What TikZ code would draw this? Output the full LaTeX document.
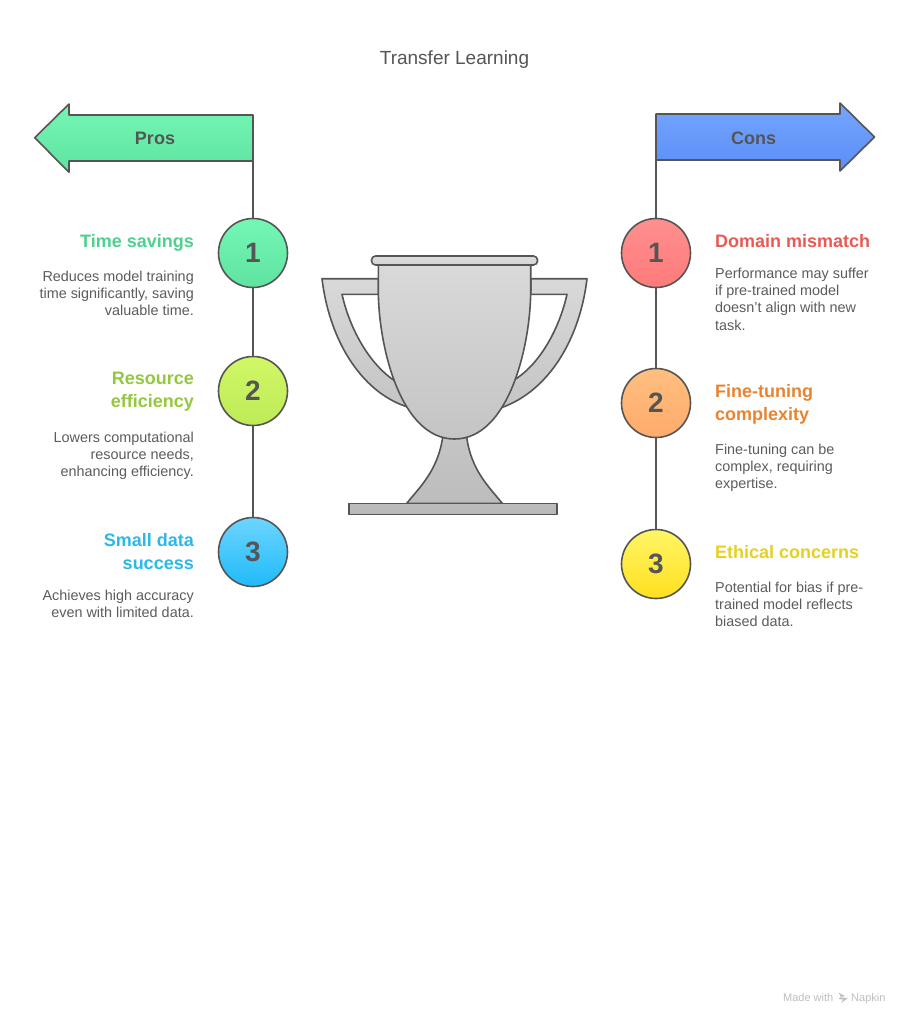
\documentclass[tikz,border=0pt]{standalone}
\usepackage{fontspec}
\setmainfont{Liberation Sans}
\definecolor{ink}{HTML}{555555}
\definecolor{bodyc}{HTML}{5C5C5C}
\definecolor{g1}{HTML}{75F7B4}\definecolor{g2}{HTML}{5FE3A1}
\definecolor{l1}{HTML}{D2F766}\definecolor{l2}{HTML}{BDEB57}
\definecolor{b1}{HTML}{6DD5FF}\definecolor{b2}{HTML}{1FBBF9}
\definecolor{r1}{HTML}{FF8F8F}\definecolor{r2}{HTML}{FF7A7A}
\definecolor{o1}{HTML}{FFBF80}\definecolor{o2}{HTML}{FFAB6B}
\definecolor{y1}{HTML}{FFF566}\definecolor{y2}{HTML}{FFE01F}
\definecolor{u1}{HTML}{74A6FF}\definecolor{u2}{HTML}{5C8DF7}
\definecolor{hg}{HTML}{4FD08F}\definecolor{hl}{HTML}{93C83F}
\definecolor{hb}{HTML}{2DB9E8}\definecolor{hr}{HTML}{E95A55}
\definecolor{ho}{HTML}{E8842F}\definecolor{hy}{HTML}{E6D11F}
\pgfdeclarelayer{back}\pgfsetlayers{back,main}
\tikzset{
  x=1pt,y=-1pt,
  outl/.style={draw=ink,line width=1.6pt,line join=round},
  conn/.style={draw=ink,line width=1.6pt},
  numc/.style={circle,outl,minimum size=69pt,inner sep=0pt,font=\fontsize{28}{28}\selectfont\bfseries,text=ink},
  headl/.style={anchor=north east,align=right,inner sep=0pt,font=\fontsize{18}{23}\selectfont\bfseries},
  headr/.style={anchor=north west,align=left,inner sep=0pt,font=\fontsize{18}{23}\selectfont\bfseries},
  bodyl/.style={anchor=north east,align=right,inner sep=0pt,text=bodyc,font=\fontsize{14.4}{17.3}\selectfont},
  bodyr/.style={anchor=north west,align=left,inner sep=0pt,text=bodyc,font=\fontsize{14.4}{17.3}\selectfont},
  lab/.style={inner sep=0pt,text=ink,font=\fontsize{18}{18}\selectfont\bfseries},
  wmark/.style={inner sep=0pt,text=black!25,font=\fontsize{11}{11}\selectfont},
}
\begin{document}
\begin{tikzpicture}
\useasboundingbox (0,0) rectangle (909,1024);
\node[inner sep=0pt,text=ink,font=\fontsize{19}{19}\selectfont] (title) at (454.5,60) {Transfer Learning};

% arrows
\path[outl,top color=g1,bottom color=g2] (34.7,137.7) -- (69,104) -- (69,115) -- (253,115) -- (253,161) -- (69,161) -- (69,172.3) -- cycle;
\path[outl,top color=u1,bottom color=u2] (874.5,137) -- (840,103) -- (840,114) -- (656,114) -- (656,160) -- (840,160) -- (840,171) -- cycle;
\node[lab] (pros) at (155,138.5) {Pros};
\node[lab] (cons) at (753.5,138) {Cons};
\coordinate (prosfoot) at (253,161);
\coordinate (consfoot) at (656,160);

% numbered circles
\node[numc,top color=g1,bottom color=g2] (p1) at (253,253) {1};
\node[numc,top color=l1,bottom color=l2] (p2) at (253,391) {2};
\node[numc,top color=b1,bottom color=b2] (p3) at (253,552) {3};
\node[numc,top color=r1,bottom color=r2] (c1) at (656,253) {1};
\node[numc,top color=o1,bottom color=o2] (c2) at (656,403) {2};
\node[numc,top color=y1,bottom color=y2] (c3) at (656,564) {3};

\begin{pgfonlayer}{back}
\fill[white] (0,0) rectangle (909,1024);
\draw[conn] (prosfoot) -- (p1) (p1) -- (p2) (p2) -- (p3);
\draw[conn] (consfoot) -- (c1) (c1) -- (c2) (c2) -- (c3);
\end{pgfonlayer}

% left texts
\node[headl,text=hg] (ph1) at (194,234) {Time savings};
\node[bodyl] (pb1) at (194,270.5) {Reduces model training\\time significantly, saving\\valuable time.};
\node[headl,text=hl] (ph2) at (194,372) {Resource\\efficiency};
\node[bodyl] (pb2) at (194,431.5) {Lowers computational\\resource needs,\\enhancing efficiency.};
\node[headl,text=hb] (ph3) at (194,533) {Small data\\success};
\node[bodyl] (pb3) at (194,589.5) {Achieves high accuracy\\even with limited data.};

% right texts
\node[headr,text=hr] (ch1) at (715,234) {Domain mismatch};
\node[bodyr] (cb1) at (715,267.5) {Performance may suffer\\if pre-trained model\\doesn't align with new\\task.};
\node[headr,text=ho] (ch2) at (715,384) {Fine-tuning\\complexity};
\node[bodyr] (cb2) at (715,443.5) {Fine-tuning can be\\complex, requiring\\expertise.};
\node[headr,text=hy] (ch3) at (715,545) {Ethical concerns};
\node[bodyr] (cb3) at (715,581.5) {Potential for bias if pre-\\trained model reflects\\biased data.};

% trophy
\path[outl,top color=black!15,bottom color=black!23] (322,278.7) -- (378.3,278.7) -- (378.3,294.3) -- (342,294.3)
  .. controls (350,330) and (370,365) .. (396,381.7) -- (410,407.7)
  .. controls (365,395) and (330,345) .. cycle;
\path[outl,top color=black!15,bottom color=black!23] (587,278.7) -- (530.7,278.7) -- (530.7,294.3) -- (567,294.3)
  .. controls (559,330) and (539,365) .. (514,380) -- (497.3,409)
  .. controls (544,395) and (579,345) .. cycle;
\path[outl,top color=black!23,bottom color=black!26] (442.7,437) .. controls (438,470) and (420,487) .. (406.7,503.3)
  -- (502.3,503.3) .. controls (489,487) and (471,470) .. (466.7,437) -- cycle;
\path[outl,top color=black!15,bottom color=black!23] (378.3,265) -- (378.3,290)
  .. controls (378.3,345) and (400,439) .. (454.5,439)
  .. controls (509,439) and (530.7,345) .. (530.7,290) -- (530.7,265) -- cycle;
\path[outl,rounded corners=4pt,top color=black!14,bottom color=black!17] (371.5,256) rectangle (537.5,265);
\path[outl,top color=black!26,bottom color=black!28] (348.7,503.5) rectangle (556.7,514.3);

% watermark
\node[wmark,anchor=base east] (wm1) at (833.5,1001) {Made with};
\node[wmark,anchor=base west] (wm2) at (851,1001) {Napkin};
\fill[black!25] (838.5,992.5) -- (845,996) -- (840,997.5) -- (848,998) -- (841,1003) -- (843,999.5) -- (838.5,999) -- (841,997) -- cycle;
\end{tikzpicture}
\end{document}
